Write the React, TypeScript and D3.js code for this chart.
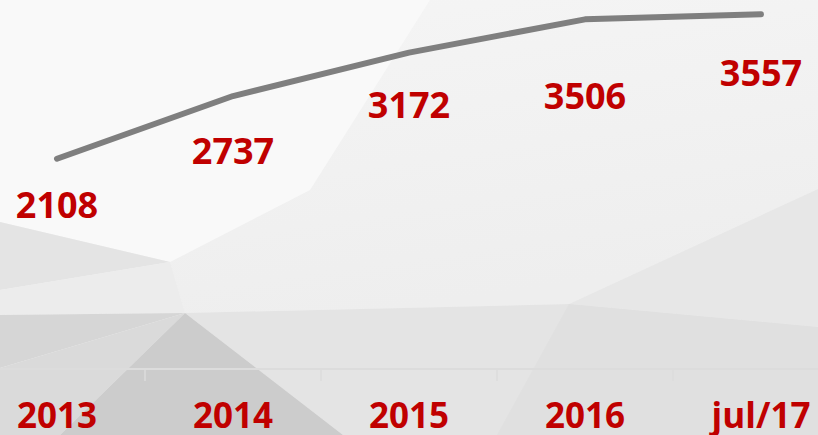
import React from "react";
import * as d3 from "d3";

const categories = ["2013", "2014", "2015", "2016", "jul/17"];
const values = [2108, 2737, 3172, 3506, 3557];
const yTicks = [0, 3700];

const W = 818;
const H = 435;
const labelDy = [59, 68, 65, 90, 72];

const bgPolys: { pts: [number, number][]; fill: string }[] = [
  { pts: [[0, 0], [818, 0], [818, 435], [0, 435]], fill: "#f2f2f2" },
  { pts: [[430, 0], [818, 0], [818, 189], [569, 304], [185, 313], [170, 262], [310, 190]], fill: "url(#gTop)" },
  { pts: [[0, 0], [430, 0], [310, 190], [170, 262], [0, 222]], fill: "#f9f9f9" },
  { pts: [[818, 189], [818, 327], [569, 304]], fill: "#e7e7e7" },
  { pts: [[0, 222], [170, 262], [0, 290]], fill: "#e4e4e4" },
  { pts: [[0, 290], [170, 262], [185, 313], [0, 315]], fill: "#ececec" },
  { pts: [[185, 313], [569, 304], [818, 327], [818, 435], [343, 435]], fill: "#e4e4e4" },
  { pts: [[569, 304], [497, 435], [818, 435], [818, 327]], fill: "#e0e0e0" },
  { pts: [[0, 315], [185, 313], [0, 368]], fill: "#d6d6d6" },
  { pts: [[0, 368], [185, 313], [60, 435], [0, 435]], fill: "#dadada" },
  { pts: [[185, 313], [343, 435], [60, 435]], fill: "#cccccc" },
];

export default function App() {
  const x = d3.scaleBand<string>().domain(categories).range([-31, 849]).padding(0);
  const y = d3.scaleLinear().domain([yTicks[0], yTicks[1]]).range([369, 0]);
  const cx = (c: string) => (x(c) as number) + x.bandwidth() / 2;

  const line = d3
    .line<number>()
    .x((_, i) => cx(categories[i]))
    .y((v) => y(v));

  const polyPath = (pts: [number, number][]) => "M" + pts.map((p) => p.join(",")).join("L") + "Z";

  const tickXs = categories.slice(1).map((c) => x(c) as number);

  const font = "'Open Sans', 'DejaVu Sans', sans-serif";

  return (
    <svg
      width={W}
      height={H}
      style={{ position: "absolute", left: 0, top: 0, display: "block" }}
    >
      <defs>
        <linearGradient id="gTop" x1="0" y1="0" x2="0.3" y2="1">
          <stop offset="0" stopColor="#f5f5f5" />
          <stop offset="1" stopColor="#eeeeee" />
        </linearGradient>
      </defs>
      {bgPolys.map((p, i) => (
        <path key={i} d={polyPath(p.pts)} fill={p.fill} />
      ))}
      <line x1={0} x2={W} y1={y(0)} y2={y(0)} stroke="#dcdcdc" strokeWidth={2} />
      {tickXs.map((tx, i) => (
        <line key={i} x1={tx} x2={tx} y1={y(0)} y2={y(0) + 12} stroke="#dcdcdc" strokeWidth={1.5} />
      ))}
      <path
        d={line(values) || ""}
        fill="none"
        stroke="#7f7f7f"
        strokeWidth={6}
        strokeLinecap="round"
        strokeLinejoin="round"
      />
      {values.map((v, i) => (
        <text
          key={i}
          x={cx(categories[i])}
          y={y(v) + labelDy[i]}
          textAnchor="middle"
          fill="#c00000"
          fontFamily={font}
          fontWeight="bold"
          fontSize={36}
        >
          {v}
        </text>
      ))}
      {categories.map((c, i) => (
        <text
          key={i}
          x={cx(c)}
          y={428}
          textAnchor="middle"
          fill="#c00000"
          fontFamily={font}
          fontWeight="bold"
          fontSize={35}
        >
          {c}
        </text>
      ))}
    </svg>
  );
}
